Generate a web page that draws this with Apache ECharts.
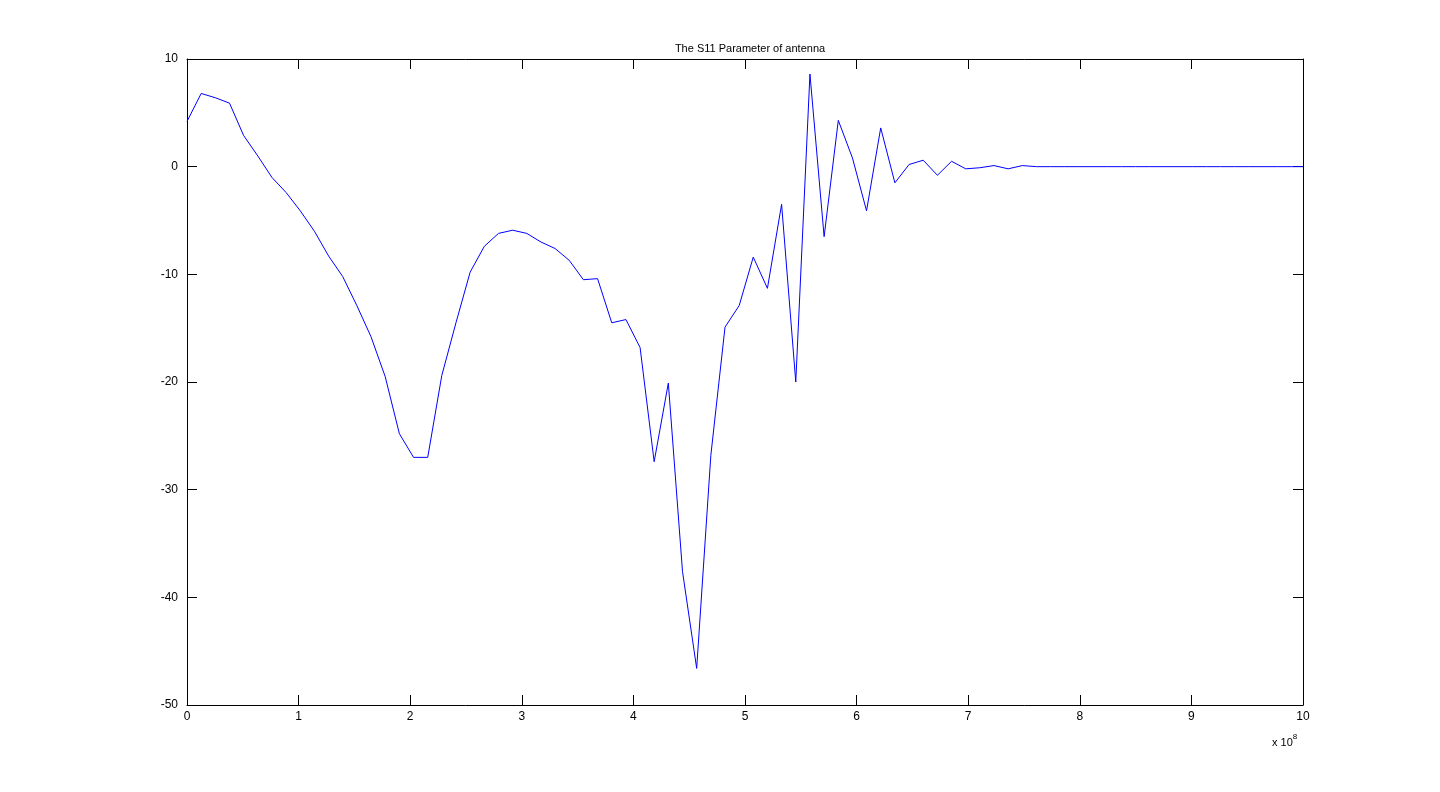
<!DOCTYPE html>
<html>
<head>
<meta charset="utf-8">
<script src="https://cdn.jsdelivr.net/npm/echarts@6/dist/echarts.min.js"></script>
<style>
html,body{margin:0;padding:0;background:#fff;}
#chart{width:1440px;height:792px;}
</style>
</head>
<body>
<div id="chart"></div>
<script>
// Frequency (x 10^8 Hz)
const freq = [0, 0.127, 0.254, 0.381, 0.507, 0.634, 0.761, 0.888, 1.015, 1.142,
  1.269, 1.395, 1.522, 1.649, 1.776, 1.903, 2.030, 2.157, 2.283, 2.410,
  2.537, 2.664, 2.791, 2.918, 3.045, 3.172, 3.298, 3.425, 3.552, 3.679,
  3.806, 3.933, 4.060, 4.186, 4.313, 4.440, 4.567, 4.694, 4.821, 4.948,
  5.074, 5.201, 5.328, 5.455, 5.582, 5.709, 5.836, 5.963, 6.089, 6.216,
  6.343, 6.470, 6.597, 6.724, 6.851, 6.978, 7.104, 7.231, 7.358, 7.485,
  7.612, 7.739, 7.866, 7.992, 8.119, 8.246, 8.373, 8.500, 8.627, 8.754,
  8.881, 9.007, 9.134, 9.261, 9.388, 9.515, 9.642, 9.769, 9.896, 10.0];
// S11 (dB)
const s11 = [4.2, 6.8, 6.4, 5.9, 2.9, 1.0, -1.0, -2.4, -4.1, -6.0,
  -8.3, -10.2, -12.9, -15.8, -19.5, -24.8, -27.0, -27.0, -19.4, -14.5,
  -9.8, -7.4, -6.2, -5.9, -6.2, -7.0, -7.6, -8.7, -10.5, -10.4,
  -14.5, -14.2, -16.8, -27.4, -20.1, -37.6, -46.6, -26.8, -14.9, -12.9,
  -8.4, -11.3, -3.5, -20.0, 8.6, -6.5, 4.3, 0.8, -4.1, 3.6,
  -1.5, 0.2, 0.6, -0.8, 0.5, -0.2, -0.1, 0.1, -0.2, 0.1,
  0, 0, 0, 0, 0, 0, 0, 0, 0, 0,
  0, 0, 0, 0, 0, 0, 0, 0, 0, 0];
const xTicks = [0, 1, 2, 3, 4, 5, 6, 7, 8, 9, 10];
const yTicks = [-50, -40, -30, -20, -10, 0, 10];
const titleText = 'The S11 Parameter of antenna';

const font = 'Arial, "Liberation Sans", sans-serif';
const chart = echarts.init(document.getElementById('chart'), null, {renderer: 'canvas'});
const pts = freq.map((f, i) => [f, s11[i]]);
const hiddenLabel = {show: false};
const tickIn = {show: true, inside: true, length: 10, lineStyle: {color: '#000', width: 1}};
const line = {show: true, onZero: false, lineStyle: {color: '#000', width: 1}};

chart.setOption({
  animation: false,
  backgroundColor: '#fff',
  title: {
    text: titleText,
    left: 745, top: 38, textAlign: 'center',
    textStyle: {fontFamily: font, fontSize: 11, fontWeight: 'normal', color: '#000'}
  },
  grid: {left: 187, right: 137, top: 59, bottom: 87, show: false, containLabel: false},
  xAxis: [{
    type: 'value', min: xTicks[0], max: xTicks[xTicks.length - 1], interval: 1,
    position: 'bottom',
    axisLine: line, axisTick: tickIn, splitLine: {show: false},
    axisLabel: {color: '#000', fontFamily: font, fontSize: 12, margin: 6}
  }, {
    type: 'value', min: xTicks[0], max: xTicks[xTicks.length - 1], interval: 1,
    position: 'top',
    axisLine: line, axisTick: tickIn, splitLine: {show: false}, axisLabel: hiddenLabel
  }],
  yAxis: [{
    type: 'value', min: yTicks[0], max: yTicks[yTicks.length - 1], interval: 10,
    position: 'left',
    axisLine: line, axisTick: tickIn, splitLine: {show: false},
    axisLabel: {color: '#000', fontFamily: font, fontSize: 12, margin: 9}
  }, {
    type: 'value', min: yTicks[0], max: yTicks[yTicks.length - 1], interval: 10,
    position: 'right',
    axisLine: line, axisTick: tickIn, splitLine: {show: false}, axisLabel: hiddenLabel
  }],
  graphic: [{
    type: 'text', left: 1272, top: 733,
    style: {
      text: '{b|x 10}{s|8}',
      rich: {
        b: {fontFamily: font, fontSize: 11, fill: '#000', padding: [4, 0, 0, 0]},
        s: {fontFamily: font, fontSize: 8, fill: '#000', verticalAlign: 'top', padding: [0, 0, 6, 0]}
      }
    }
  }],
  series: [{
    type: 'line', xAxisIndex: 0, yAxisIndex: 0,
    data: pts, symbol: 'none', clip: true,
    lineStyle: {color: '#0000ff', width: 1}
  }]
});
</script>
</body>
</html>
